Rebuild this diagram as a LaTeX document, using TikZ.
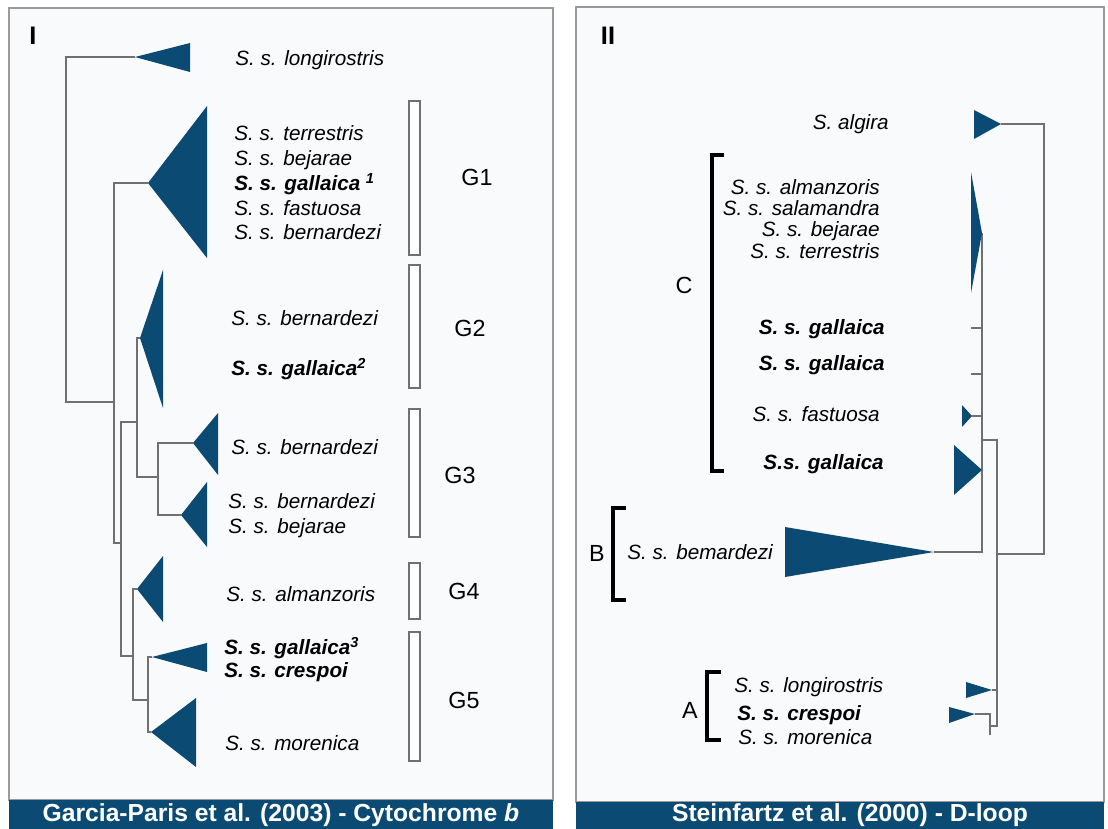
\documentclass[tikz,border=0pt]{standalone}
\usepackage{fontspec}
\setmainfont{Liberation Sans}
\definecolor{tri}{HTML}{0B4A72}
\definecolor{capbar}{HTML}{0B4A72}
\definecolor{panel}{HTML}{F9FAFC}
\definecolor{edge}{HTML}{707070}
\definecolor{frame}{HTML}{9A9A9A}
\tikzset{
  tr/.style={fill=tri},
  br/.style={draw=edge, line width=0.8pt},
  brk/.style={draw=black, line width=2.3pt},
  gbox/.style={draw=edge, fill=white, line width=0.8pt},
  lbl/.style={font=\fontsize{15.5}{18}\selectfont\itshape, inner sep=0pt, text height=11pt, text depth=0pt},
  blbl/.style={lbl, font=\fontsize{15.5}{18}\selectfont\itshape\bfseries},
  glbl/.style={font=\fontsize{17.5}{20}\selectfont, inner sep=0pt, text height=12.5pt, text depth=0pt},
  plbl/.style={font=\fontsize{19}{22}\selectfont\bfseries, inner sep=0pt, text height=13.6pt, text depth=0pt},
  caption/.style={font=\fontsize{18.5}{22}\selectfont\bfseries, text=white, inner sep=0pt}
}
\begin{document}
\begin{tikzpicture}[x=0.75pt,y=-0.75pt]
\useasboundingbox (0,0) rectangle (1108,829);
\fill[white] (0,0) rectangle (1108,829);
% ---------------- Panel I ----------------
\filldraw[fill=panel, draw=frame, line width=1pt] (9,8) rectangle (553,800);
\fill[capbar] (9,800) rectangle (553,829);
\node[caption] (capI) at (281,815) {Garcia-Paris et al. (2003) - Cytochrome \textit{b}};
\node[plbl] (pI) at (33,35) {I};
% tree edges
\draw[br] (135,57) -- (66,57) -- (66,402) -- (114,402);
\draw[br] (148,183) -- (114,183) -- (114,543) -- (121,543);
\draw[br] (137,422) -- (121,422) -- (121,656) -- (133,656);
\draw[br] (140,338) -- (137,338) -- (137,477) -- (158,477);
\draw[br] (193,443) -- (158,443) -- (158,515) -- (181,515);
\draw[br] (137,589) -- (133,589) -- (133,700) -- (148,700);
\draw[br] (152,657) -- (148,657) -- (148,732) -- (151,732);
% triangles
\fill[tr] (135,57) -- (190,43) -- (190,72) -- cycle;
\fill[tr] (148,183) -- (207,106) -- (207,258) -- cycle;
\fill[tr] (140,338) -- (163,270) -- (163,408) -- cycle;
\fill[tr] (193,443) -- (218,413) -- (218,475) -- cycle;
\fill[tr] (181,515) -- (207,482) -- (207,547) -- cycle;
\fill[tr] (137,589) -- (163,556) -- (163,622) -- cycle;
\fill[tr] (152,657) -- (207,643) -- (207,672) -- cycle;
\fill[tr] (151,732) -- (196,698) -- (196,767) -- cycle;
% labels
\node[lbl, anchor=west] (l1) at (235,58) {S. s. longirostris};
\node[lbl, anchor=west] (l2) at (234,133) {S. s. terrestris};
\node[lbl, anchor=west] (l3) at (234,158) {S. s. bejarae};
\node[blbl, anchor=west] (l4) at (234,183) {S. s. gallaica \textsuperscript{1}};
\node[lbl, anchor=west] (l5) at (234,208) {S. s. fastuosa};
\node[lbl, anchor=west] (l6) at (234,232) {S. s. bernardezi};
\node[lbl, anchor=west] (l7) at (231,318) {S. s. bernardezi};
\node[blbl, anchor=west] (l8) at (231,368) {S. s. gallaica\textsuperscript{2}};
\node[lbl, anchor=west] (l9) at (231,447) {S. s. bernardezi};
\node[lbl, anchor=west] (l10) at (228,501) {S. s. bernardezi};
\node[lbl, anchor=west] (l11) at (228,526) {S. s. bejarae};
\node[lbl, anchor=west] (l12) at (226,594) {S. s. almanzoris};
\node[blbl, anchor=west] (l13) at (224,647) {S. s. gallaica\textsuperscript{3}};
\node[blbl, anchor=west] (l14) at (224,670) {S. s. crespoi};
\node[lbl, anchor=west] (l15) at (225,743) {S. s. morenica};
% group boxes
\draw[gbox] (409,101) rectangle (420,255);
\draw[gbox] (409,265) rectangle (420,388);
\draw[gbox] (409,409) rectangle (420,537);
\draw[gbox] (409,563) rectangle (420,619);
\draw[gbox] (409,632) rectangle (420,761);
\node[glbl] (g1) at (477,177) {G1};
\node[glbl] (g2) at (470,328) {G2};
\node[glbl] (g3) at (460,475) {G3};
\node[glbl] (g4) at (464,591) {G4};
\node[glbl] (g5) at (464,700) {G5};
% ---------------- Panel II ----------------
\filldraw[fill=panel, draw=frame, line width=1pt] (576,7) rectangle (1104,802);
\fill[capbar] (576,802) rectangle (1104,829);
\node[caption] (capII) at (850,815) {Steinfartz et al. (2000) - D-loop};
\node[plbl] (pII) at (608,35) {II};
% tree edges
\draw[br] (1001,124) -- (1044,124) -- (1044,554) -- (997,554);
\draw[br] (982,440) -- (997,440) -- (997,726) -- (990,726);
\draw[br] (982,233) -- (982,552) -- (934,552);
\draw[br] (971,328) -- (982,328);
\draw[br] (971,374) -- (982,374);
\draw[br] (972,416) -- (982,416);
\draw[br] (992,690) -- (997,690);
\draw[br] (975,714) -- (990,714) -- (990,735);
% triangles
\fill[tr] (1001,124) -- (974,110) -- (974,139) -- cycle;
\fill[tr] (982,233) -- (971,172) -- (971,293) -- cycle;
\fill[tr] (972,416) -- (962,405) -- (962,427) -- cycle;
\fill[tr] (982,470) -- (954,445) -- (954,495) -- cycle;
\fill[tr] (934,552) -- (785,527) -- (785,577) -- cycle;
\fill[tr] (992,690) -- (966,682) -- (966,698) -- cycle;
\fill[tr] (975,714) -- (949,707) -- (949,723) -- cycle;
% brackets
\draw[brk] (724,155) -- (712,155) -- (712,471) -- (724,471);
\draw[brk] (626,508) -- (613,508) -- (613,600) -- (626,600);
\draw[brk] (721,672) -- (707,672) -- (707,740) -- (721,740);
\node[glbl] (gc) at (684,285) {C};
\node[glbl] (gb) at (597,553) {B};
\node[glbl] (ga) at (690,710) {A};
% labels
\node[lbl, anchor=east] (r1) at (889,122) {S. algira};
\node[lbl, anchor=east] (r2) at (880,187) {S. s. almanzoris};
\node[lbl, anchor=east] (r3) at (880,208) {S. s. salamandra};
\node[lbl, anchor=east] (r4) at (880,229) {S. s. bejarae};
\node[lbl, anchor=east] (r5) at (880,251) {S. s. terrestris};
\node[blbl, anchor=east] (r6) at (885,327) {S. s. gallaica};
\node[blbl, anchor=east] (r7) at (885,363) {S. s. gallaica};
\node[lbl, anchor=east] (r8) at (880,414) {S. s. fastuosa};
\node[blbl, anchor=east] (r9) at (884,462) {S.s. gallaica};
\node[lbl, anchor=west] (r10) at (627,552) {S. s. bemardezi};
\node[lbl, anchor=west] (r11) at (734,685) {S. s. longirostris};
\node[blbl, anchor=west] (r12) at (737,713) {S. s. crespoi};
\node[lbl, anchor=west] (r13) at (738,737) {S. s. morenica};
\end{tikzpicture}
\end{document}
